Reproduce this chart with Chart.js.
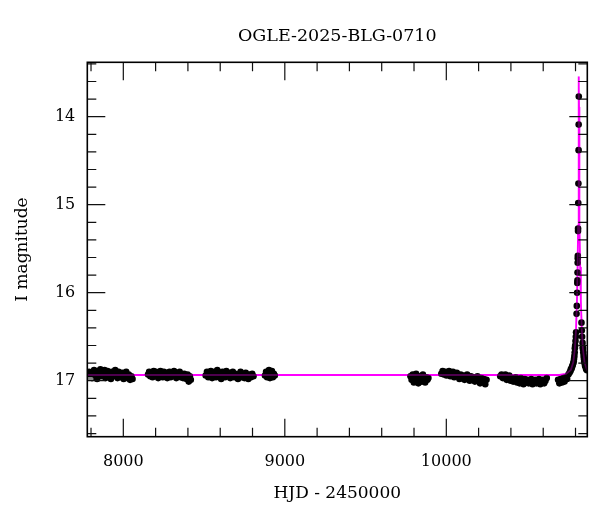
<!DOCTYPE html>
<html>
<head>
<meta charset="utf-8">
<script src="https://cdn.jsdelivr.net/npm/chart.js@4/dist/chart.umd.min.js"></script>
<style>
html,body{margin:0;padding:0;background:#fff;}
#wrap{width:600px;height:512px;}
</style>
</head>
<body>
<div id="wrap"><canvas id="c" width="600" height="512"></canvas></div>
<script>
// ---------- text ----------
const titleText = 'OGLE-2025-BLG-0710';
const xTitle = 'HJD - 2450000';
const yTitle = 'I magnitude';
const xTickLabels = [8000, 9000, 10000];
const yTickLabels = [14, 15, 16, 17];

// ---------- photometry (HJD - 2450000, I mag), per season ----------
const s1t = [7781,7788,7795,7801,7806,7812,7819,7826,7833,7838,7845,7852,7858,7864,7871,7877,7884,7890,7897,7903,7910,7916,7923,7930,7936,7943,7950,7957,7964,7971,7978,7986,7994,8002,8010,8018,8026,8034,8042,8050,8057];
const s1m = [16.93,16.90,16.96,16.92,16.97,16.91,16.88,16.94,16.92,16.98,16.89,16.93,16.87,16.95,16.91,16.94,16.88,16.97,16.92,16.89,16.94,16.93,16.98,16.90,16.95,16.92,16.88,16.94,16.97,16.90,16.93,16.96,16.91,16.98,16.94,16.90,16.97,16.93,16.99,16.95,16.98];

const s2t = [8153,8160,8167,8174,8181,8188,8195,8202,8209,8216,8223,8230,8237,8244,8251,8258,8265,8272,8279,8286,8293,8300,8307,8314,8321,8328,8335,8342,8349,8356,8363,8370,8377,8384,8391,8398,8405,8412,8418];
const s2m = [16.93,16.90,16.95,16.92,16.96,16.89,16.93,16.90,16.94,16.97,16.92,16.89,16.93,16.96,16.90,16.94,16.91,16.97,16.93,16.90,16.96,16.92,16.94,16.89,16.93,16.97,16.92,16.95,16.90,16.96,16.93,16.97,16.92,16.95,16.98,16.93,17.01,16.95,16.99];

const s3t = [8510,8518,8526,8534,8542,8550,8558,8566,8574,8582,8590,8598,8606,8614,8622,8630,8638,8646,8654,8662,8670,8678,8686,8694,8702,8710,8718,8726,8734,8742,8750,8758,8766,8774,8782,8790,8798,8806];
const s3m = [16.94,16.90,16.96,16.92,16.89,16.97,16.93,16.90,16.96,16.88,16.94,16.91,16.98,16.90,16.93,16.96,16.89,16.94,16.91,16.97,16.93,16.90,16.96,16.92,16.94,16.98,16.93,16.90,16.96,16.93,16.97,16.91,16.94,16.98,16.93,16.96,16.92,16.95];

const s4t = [8877,8884,8890,8896,8902,8908,8914,8920,8926,8932,8938];
const s4m = [16.94,16.90,16.96,16.92,16.88,16.97,16.93,16.89,16.96,16.92,16.94];

const s5t = [9778,9785,9792,9799,9806,9813,9820,9827,9834,9841,9848,9855,9862,9869,9876,9883,9889];
const s5m = [16.95,16.99,16.93,17.02,16.96,16.92,16.99,17.03,16.95,16.97,17.01,16.93,16.98,17.02,16.96,16.99,16.97];

const s6t = [9969,9977,9985,9993,10001,10009,10017,10025,10033,10041,10049,10057,10065,10073,10081,10089,10097,10105,10113,10121,10129,10137,10145,10153,10161,10169,10177,10185,10193,10201,10209,10217,10225,10233,10241,10249];
const s6m = [16.92,16.89,16.93,16.90,16.94,16.92,16.89,16.95,16.93,16.90,16.96,16.94,16.91,16.95,16.98,16.93,16.97,16.94,16.99,16.95,16.93,16.98,17.00,16.95,16.99,16.96,17.01,16.97,16.95,17.00,17.03,16.97,17.01,16.98,17.04,16.99];

const s7t = [10334,10342,10350,10358,10366,10374,10382,10390,10398,10406,10414,10422,10430,10438,10446,10454,10462,10470,10478,10486,10494,10502,10510,10518,10526,10534,10542,10550,10558,10566,10574,10582,10590,10598,10606,10614,10622];
const s7m = [16.95,16.93,16.97,16.95,16.93,16.99,16.96,16.94,17.00,16.97,17.01,16.98,16.96,17.02,16.99,17.03,16.97,17.01,17.04,16.98,17.02,16.99,17.03,17.00,16.98,17.04,17.01,16.99,17.03,17.00,16.98,17.04,17.01,16.99,17.03,17.00,16.97];

const s8t = [10692,10700,10708,10716,10724,10732,10740,10748,10756,10763,10769,10771,10776,10779,10783,10787,10789,10791,10793,10795,10796,10798,10800,10802,10803.5,10806.5,10808,10810,10811,10812,10812.5,10813.4,10814,10814.3,10815.5,10815.8,10817,10818,10819,10819.6,10820.4,10837,10839,10841,10843.5,10845,10846,10848,10850,10852,10854,10856,10859,10862,10866,10871];
const s8m = [16.99,17.03,16.98,17.02,16.97,17.01,16.96,16.98,16.93,16.91,16.89,16.87,16.86,16.84,16.82,16.80,16.78,16.75,16.72,16.68,16.63,16.60,16.55,16.50,16.45,16.24,16.15,16.00,15.89,15.86,15.77,15.66,15.61,15.58,15.30,15.27,14.98,14.76,14.38,14.09,13.77,16.34,16.43,16.50,16.57,16.62,16.64,16.68,16.72,16.75,16.78,16.80,16.83,16.84,16.87,16.88];

// faint grey points at the left edge
const greyT = [7781,7786,7791,7796,7801,7806];
const greyM = [16.975,16.98,16.975,16.98,16.975,16.98];

// ---------- model light curve ----------
const modelT = [7700,10700,10741,10771,10786,10796,10803,10809,10813,10816,10818,10819,10819.5,10820,10820.5,10821,10821.5,10822,10822.5,10823,10824,10826,10829,10833,10839,10846,10856,10871,10901];
const modelM = [16.935,16.935,16.922,16.878,16.79,16.64,16.427,16.091,15.707,15.237,14.734,14.366,14.14,13.89,13.653,13.543,13.653,13.89,14.14,14.366,14.734,15.237,15.707,16.091,16.427,16.64,16.79,16.878,16.922];

const seasonsT = [s1t,s2t,s3t,s4t,s5t,s6t,s7t,s8t];
const seasonsM = [s1m,s2m,s3m,s4m,s5m,s6m,s7m,s8m];
const obs = [];
seasonsT.forEach((ts,k)=>ts.forEach((t,i)=>obs.push({x:t,y:seasonsM[k][i]})));
const greyPts = greyT.map((t,i)=>({x:t,y:greyM[i]}));
const modelPts = modelT.map((t,i)=>({x:t,y:modelM[i]}));

const FONT = 'DejaVu Serif';

const framePlugin = {
  id: 'frame',
  afterDatasetsDraw(chart){
    const {ctx, chartArea:a, scales:{x,y}} = chart;
    ctx.save();
    ctx.strokeStyle = '#111';
    ctx.lineWidth = 1.2;
    ctx.beginPath();
    const xs = Math.ceil(x.min/200)*200;
    for (let v = xs; v <= x.max; v += 200){
      const p = x.getPixelForValue(v);
      const len = (v % 1000 === 0) ? 18 : 9;
      ctx.moveTo(p, a.bottom); ctx.lineTo(p, a.bottom - len);
      ctx.moveTo(p, a.top); ctx.lineTo(p, a.top + len);
    }
    const k0 = Math.ceil(y.min/0.2 - 1e-6), k1 = Math.floor(y.max/0.2 + 1e-6);
    for (let k = k0; k <= k1; k++){
      const v = k*0.2;
      const p = y.getPixelForValue(v);
      const len = (k % 5 === 0) ? 18 : 9;
      ctx.moveTo(a.left, p); ctx.lineTo(a.left + len, p);
      ctx.moveTo(a.right, p); ctx.lineTo(a.right - len, p);
    }
    ctx.stroke();
    ctx.lineWidth = 1.6;
    ctx.strokeStyle = '#000';
    ctx.strokeRect(a.left, a.top, a.right - a.left, a.bottom - a.top);
    ctx.restore();
  }
};

new Chart(document.getElementById('c'), {
  type: 'scatter',
  data: {
    datasets: [
      {
        label: 'model (over)',
        type: 'line',
        data: modelPts,
        borderColor: 'rgba(255,0,255,0.3)',
        borderWidth: 1.8,
        pointRadius: 0,
        tension: 0,
        fill: false,
        order: 0
      },
      {
        label: 'grey',
        data: greyPts,
        backgroundColor: '#8a8a8a',
        borderWidth: 0,
        pointRadius: 1.6,
        order: 1
      },
      {
        label: 'OGLE',
        data: obs,
        backgroundColor: '#000',
        borderWidth: 0,
        pointRadius: 3.3,
        order: 2
      },
      {
        label: 'model',
        type: 'line',
        data: modelPts,
        borderColor: 'rgb(255,0,255)',
        borderWidth: 1.8,
        pointRadius: 0,
        tension: 0,
        fill: false,
        order: 3
      }
    ]
  },
  options: {
    responsive: false,
    animation: false,
    devicePixelRatio: 1,
    layout: { padding: { left: 0, right: 12.7, top: 0, bottom: 0 } },
    plugins: {
      legend: { display: false },
      tooltip: { enabled: false },
      title: { display: false }
    },
    scales: {
      x: {
        type: 'linear',
        position: 'bottom',
        min: 7777,
        max: 10873,
        grid: { display: false },
        border: { display: false },
        afterBuildTicks: s => { s.ticks = xTickLabels.map(v => ({ value: v })); },
        afterFit: s => { s.height = 512 - 436.7; },
        ticks: {
          color: '#000',
          font: { family: FONT, size: 16 },
          padding: 8,
          maxRotation: 0,
          autoSkip: false,
          callback: v => String(v)
        },
        title: {
          display: true,
          text: xTitle,
          color: '#000',
          font: { family: FONT, size: 17 },
          padding: { top: 0, bottom: 8 }
        }
      },
      xTop: {
        type: 'linear',
        position: 'top',
        min: 7777,
        max: 10873,
        grid: { display: false },
        border: { display: false },
        ticks: { display: false },
        afterFit: s => { s.height = 62.3; },
        title: {
          display: true,
          text: titleText,
          color: '#000',
          font: { family: FONT, size: 17.5 },
          padding: { top: 26, bottom: 0 }
        }
      },
      y: {
        type: 'linear',
        reverse: true,
        min: 13.382,
        max: 17.636,
        grid: { display: false },
        border: { display: false },
        afterBuildTicks: s => { s.ticks = yTickLabels.map(v => ({ value: v })); },
        afterFit: s => { s.width = 87.3; },
        ticks: {
          color: '#000',
          font: { family: FONT, size: 16 },
          padding: 4,
          autoSkip: false,
          callback: v => String(v)
        },
        title: {
          display: true,
          text: yTitle,
          color: '#000',
          font: { family: FONT, size: 17 },
          padding: { top: 12, bottom: 0 }
        }
      }
    }
  },
  plugins: [framePlugin]
});
</script>
</body>
</html>
